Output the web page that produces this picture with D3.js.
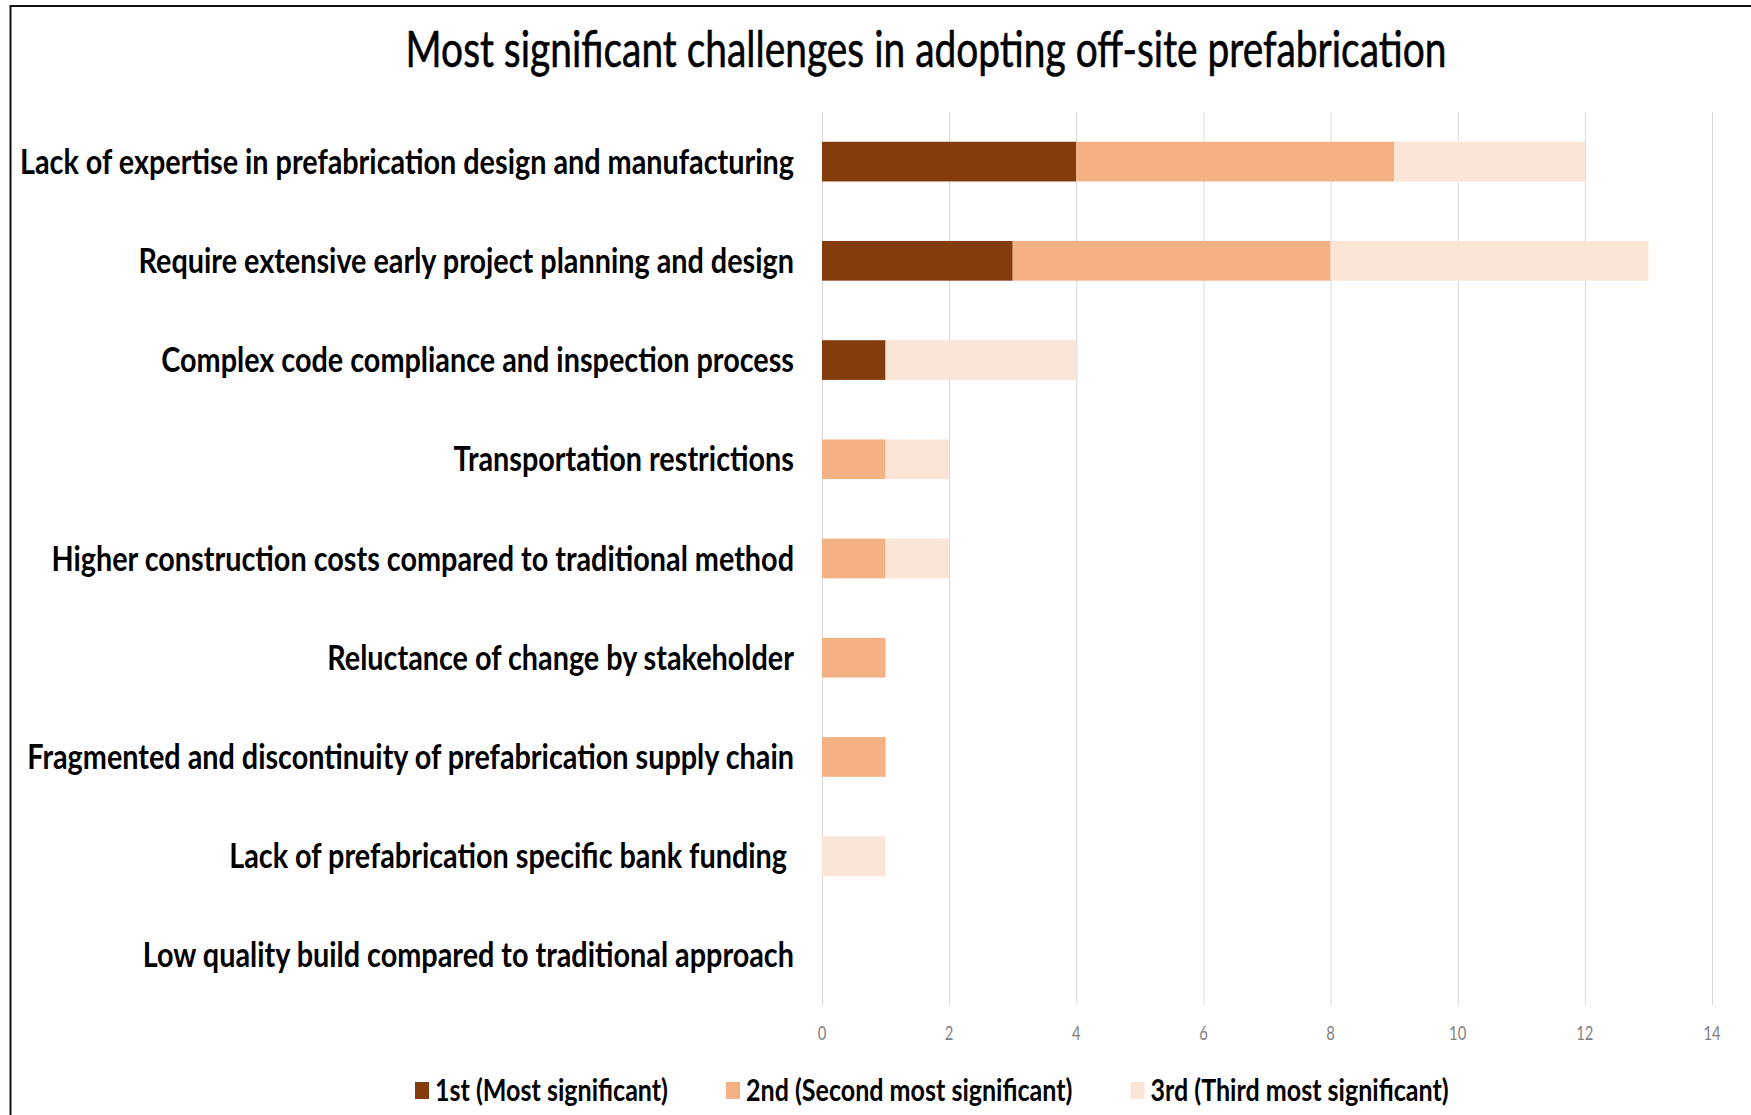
<!DOCTYPE html>
<html><head><meta charset="utf-8">
<script src="https://cdn.jsdelivr.net/npm/d3@7"></script>
<style>body{margin:0;background:#fff} text{white-space:pre}</style>
</head><body>
<svg id="c" width="1751" height="1115"></svg>
<script>
const titleText = "Most significant challenges in adopting off-site prefabrication";
const categories = [
  "Lack of expertise in prefabrication design and manufacturing",
  "Require extensive early project planning and design",
  "Complex code compliance and inspection process",
  "Transportation restrictions",
  "Higher construction costs compared to traditional method",
  "Reluctance of change by stakeholder",
  "Fragmented and discontinuity of prefabrication supply chain",
  "Lack of prefabrication specific bank funding ",
  "Low quality build compared to traditional approach"
];
const firstVals  = [4, 3, 1, 0, 0, 0, 0, 0, 0];
const secondVals = [5, 5, 0, 1, 1, 1, 1, 0, 0];
const thirdVals  = [3, 5, 3, 1, 1, 0, 0, 1, 0];
const seriesNames = ["1st (Most significant)", "2nd (Second most significant)", "3rd (Third most significant)"];
const seriesColors = ["#843C0C", "#F4B183", "#FBE5D6"];
const xTicks = [0, 2, 4, 6, 8, 10, 12, 14];

const svg = d3.select("#c");
const FONT = "Lato, 'Open Sans', sans-serif";

function condense(sel, sx) {
  sel.each(function() {
    const w = this.getComputedTextLength();
    d3.select(this).attr("textLength", w * sx).attr("lengthAdjust", "spacingAndGlyphs");
  });
}
function ratioFor(sel, target) {
  return target / sel.node().getComputedTextLength();
}

// border
svg.append("path").attr("d", "M10.5,1115 V6 H1751").attr("fill", "none")
  .attr("stroke", "#111").attr("stroke-width", 2);

const rows = categories.map((c, i) => ({cat: c, s0: firstVals[i], s1: secondVals[i], s2: thirdVals[i]}));
const stack = d3.stack().keys(["s0", "s1", "s2"])(rows);

const x = d3.scaleLinear().domain([0, 14]).range([822, 1712]);
const y = d3.scaleBand().domain(categories).range([112, 1005]).paddingInner(0.6).paddingOuter(0.3);

// gridlines
svg.append("g").selectAll("line").data(xTicks).join("line")
  .attr("x1", d => x(d) + 0.5).attr("x2", d => x(d) + 0.5)
  .attr("y1", 112).attr("y2", 1005)
  .attr("stroke", "#D9D9D9").attr("stroke-width", 1);

// bars
svg.append("g").selectAll("g").data(stack).join("g")
  .attr("fill", (d, i) => seriesColors[i])
  .selectAll("rect").data(d => d).join("rect")
  .attr("x", d => x(d[0]))
  .attr("width", d => x(d[1]) - x(d[0]))
  .attr("y", d => y(d.data.cat))
  .attr("height", y.bandwidth());

// x tick labels
const ticks = svg.append("g").selectAll("text").data(xTicks).join("text")
  .attr("x", d => x(d)).attr("y", 1040)
  .attr("text-anchor", "middle")
  .attr("font-family", FONT).attr("font-size", 19)
  .attr("fill", "#7F7F7F")
  .text(d => d);
condense(ticks, 0.78);

// category labels
const labels = svg.append("g").selectAll("text").data(categories).join("text")
  .attr("x", 794)
  .attr("y", d => y(d) + y.bandwidth() / 2 + 12)
  .attr("text-anchor", "end")
  .attr("font-family", FONT).attr("font-weight", 700).attr("font-size", 34)
  .attr("fill", "#000")
  .text(d => d);
const lsx = ratioFor(labels.filter((d, i) => i === 0), 774);
condense(labels, lsx);

// title (condensed via transform)
const tg = svg.append("g");
const title = tg.append("text")
  .attr("x", 0).attr("y", 0)
  .attr("text-anchor", "middle")
  .attr("font-family", FONT).attr("font-weight", 400).attr("font-size", 51)
  .attr("fill", "#000").attr("stroke", "#000").attr("stroke-width", 0.6)
  .text(titleText);
const tsx = ratioFor(title, 1041);
tg.attr("transform", `translate(926,67) scale(${tsx},1)`);

// legend
const leg = svg.append("g");
let lx = 415;
let legSx = null;
seriesNames.forEach((name, i) => {
  leg.append("rect").attr("x", lx).attr("y", 1082).attr("width", 14).attr("height", 17)
    .attr("fill", seriesColors[i]);
  const t = leg.append("text").attr("x", lx + 20).attr("y", 1101)
    .attr("font-family", FONT).attr("font-weight", 700).attr("font-size", 30)
    .attr("fill", "#000").text(name);
  if (legSx === null) legSx = ratioFor(t, 233);
  const w = t.node().getComputedTextLength() * legSx;
  t.attr("textLength", w).attr("lengthAdjust", "spacingAndGlyphs");
  lx = lx + 20 + w + 58;
});
</script>
</body></html>
